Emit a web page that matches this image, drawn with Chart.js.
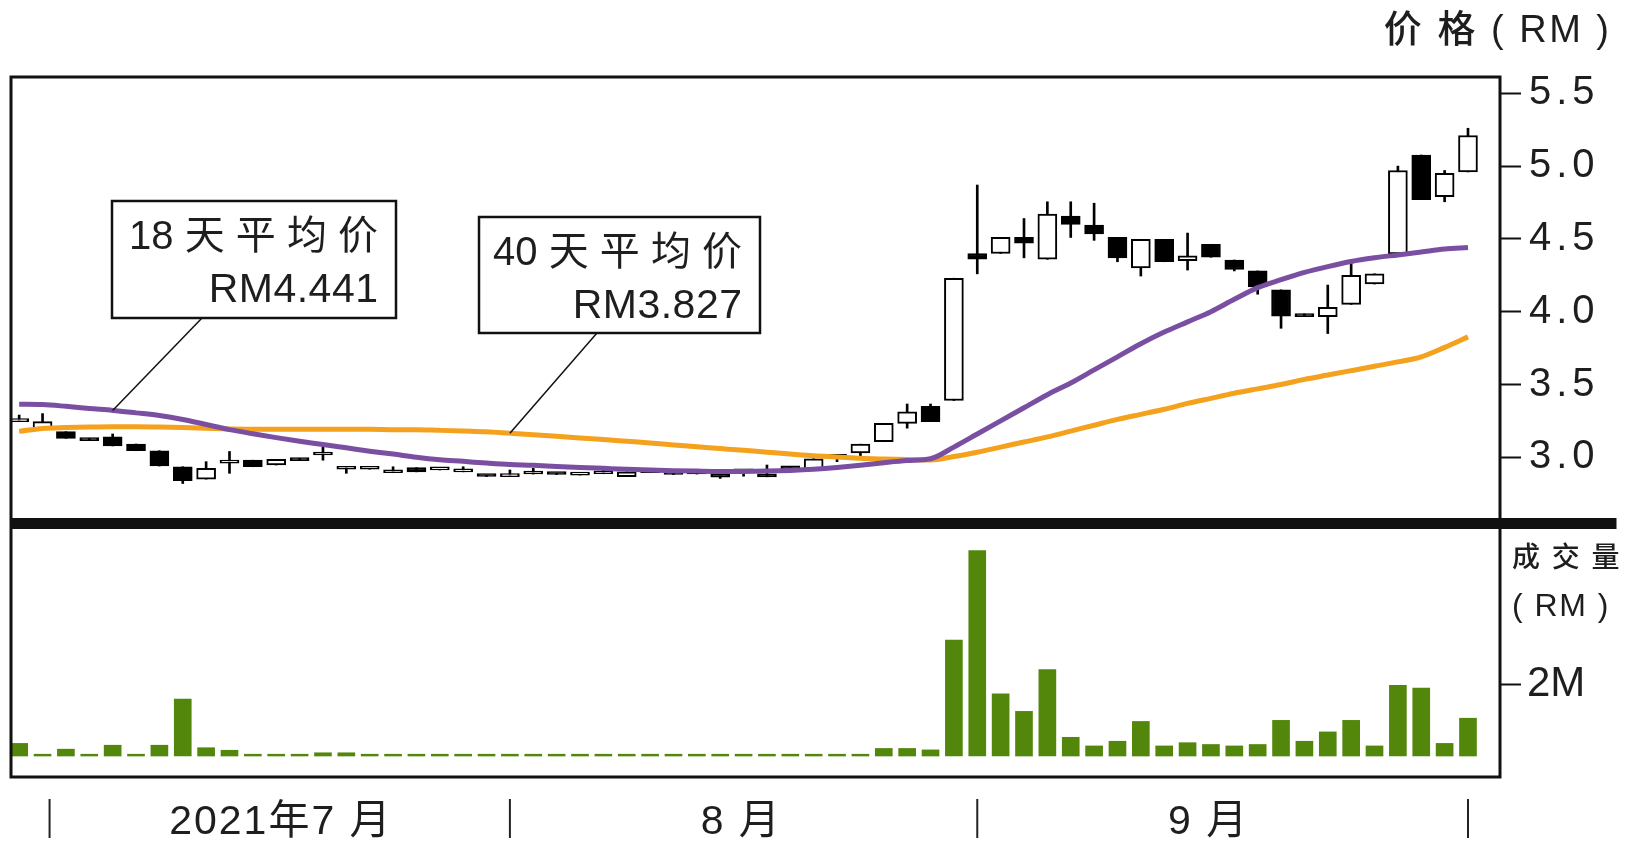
<!DOCTYPE html>
<html>
<head>
<meta charset="utf-8">
<title>价格与成交量</title>
<script src="https://cdn.jsdelivr.net/npm/chart.js@4.4.1/dist/chart.umd.min.js"></script>
<style>
  html, body { margin: 0; padding: 0; background: #fff; }
  body { width: 1633px; height: 852px; position: relative; overflow: hidden; }
  .pane { position: absolute; left: 0; width: 1633px; }
  #pricePane { top: 0; height: 530px; }
  #volPane { top: 529px; height: 323px; }
</style>
</head>
<body>
<div class="pane" id="pricePane"><canvas id="priceChart"></canvas></div>
<div class="pane" id="volPane"><canvas id="volChart"></canvas></div>
<script>
// trading days, 2021-07-01 .. 2021-10-01
const days = [
  '07-01','07-02','07-05','07-06','07-07','07-08','07-09','07-12','07-13','07-14',
  '07-15','07-16','07-19','07-21','07-22','07-23','07-26','07-27','07-28','07-29',
  '07-30','08-02','08-03','08-04','08-05','08-06','08-09','08-11','08-12','08-13',
  '08-16','08-17','08-18','08-19','08-20','08-23','08-24','08-25','08-26','08-27',
  '08-30','09-01','09-02','09-03','09-06','09-07','09-08','09-09','09-10','09-13',
  '09-14','09-15','09-17','09-20','09-21','09-22','09-23','09-24','09-27','09-28',
  '09-29','09-30','10-01'
];

// daily prices (RM)
const openP = [
  3.245, 3.19, 3.176, 3.13, 3.141, 3.091, 3.045, 2.935, 2.85, 2.96,
  2.98, 2.947, 2.993, 3.016, 2.918, 2.918, 2.894, 2.929, 2.913, 2.90,
  2.876, 2.867, 2.885, 2.89, 2.878, 2.887, 2.867, 2.894, 2.89, 2.885,
  2.872, 2.90, 2.874, 2.928, 2.915, 3.0, 3.03, 3.107, 3.233, 3.35,
  3.39, 4.40, 4.40, 4.51, 4.36, 4.657, 4.595, 4.51, 4.30, 4.497,
  4.35, 4.463, 4.355, 4.28, 4.15, 3.985, 3.966, 4.05, 4.19, 4.396,
  5.076, 4.79, 4.96
];
const closeP = [
  3.245, 3.245, 3.13, 3.114, 3.078, 3.045, 2.94, 2.84, 2.924, 2.97,
  2.935, 2.986, 2.977, 3.016, 2.918, 2.918, 2.894, 2.90, 2.913, 2.90,
  2.868, 2.867, 2.885, 2.882, 2.878, 2.887, 2.90, 2.894, 2.882, 2.885,
  2.864, 2.90, 2.866, 2.92, 2.99, 3.0, 3.09, 3.233, 3.313, 3.245,
  4.23, 4.36, 4.51, 4.47, 4.67, 4.60, 4.534, 4.37, 4.497, 4.343,
  4.383, 4.374, 4.29, 4.17, 3.97, 3.966, 4.03, 4.25, 4.26, 4.97,
  4.77, 4.95, 5.21
];
const highP = [
  3.29, 3.30, 3.176, 3.13, 3.16, 3.091, 3.045, 2.935, 2.97, 3.04,
  2.98, 2.986, 2.993, 3.096, 2.935, 2.918, 2.935, 2.929, 2.913, 2.935,
  2.876, 2.913, 2.924, 2.89, 2.878, 2.935, 2.90, 2.894, 2.89, 2.885,
  2.872, 2.91, 2.947, 2.928, 2.99, 3.01, 3.09, 3.233, 3.366, 3.366,
  4.23, 4.87, 4.51, 4.64, 4.755, 4.755, 4.745, 4.51, 4.497, 4.497,
  4.54, 4.463, 4.355, 4.28, 4.15, 3.985, 4.183, 4.34, 4.26, 5.0,
  5.076, 4.97, 5.26
];
const lowP = [
  3.245, 3.19, 3.13, 3.114, 3.078, 3.045, 2.94, 2.82, 2.85, 2.89,
  2.935, 2.947, 2.977, 2.98, 2.89, 2.918, 2.894, 2.90, 2.913, 2.90,
  2.868, 2.867, 2.885, 2.882, 2.878, 2.887, 2.867, 2.894, 2.882, 2.885,
  2.855, 2.87, 2.866, 2.92, 2.915, 2.97, 3.01, 3.107, 3.20, 3.245,
  3.39, 4.26, 4.40, 4.37, 4.36, 4.51, 4.49, 4.343, 4.245, 4.343,
  4.286, 4.374, 4.28, 4.12, 3.886, 3.966, 3.85, 4.05, 4.19, 4.396,
  4.77, 4.755, 4.96
];

// moving averages
const ma18 = [
  3.364, 3.362, 3.35, 3.335, 3.322, 3.305, 3.287, 3.26, 3.225, 3.19,
  3.162, 3.135, 3.11, 3.088, 3.065, 3.042, 3.022, 3.0, 2.983, 2.972,
  2.96, 2.95, 2.945, 2.937, 2.93, 2.924, 2.918, 2.913, 2.908, 2.905,
  2.903, 2.903, 2.905, 2.91, 2.918, 2.93, 2.945, 2.963, 2.978, 2.99,
  3.07, 3.16, 3.25, 3.34, 3.43, 3.51, 3.60, 3.69, 3.78, 3.86,
  3.93, 4.0, 4.085, 4.165, 4.22, 4.27, 4.31, 4.345, 4.37, 4.39,
  4.41, 4.43, 4.441
];
const ma40 = [
  3.178, 3.198, 3.204, 3.208, 3.21, 3.21, 3.208, 3.205, 3.2, 3.195,
  3.193, 3.192, 3.192, 3.192, 3.192, 3.192, 3.19, 3.19, 3.185, 3.18,
  3.175, 3.165, 3.155, 3.145, 3.133, 3.122, 3.11, 3.098, 3.085, 3.072,
  3.06, 3.048, 3.035, 3.022, 3.01, 3.002, 2.993, 2.988, 2.984, 2.982,
  3.005, 3.035, 3.07, 3.105, 3.14, 3.18, 3.22, 3.26, 3.295, 3.33,
  3.37, 3.405, 3.44, 3.47, 3.50, 3.535, 3.565, 3.595, 3.625, 3.655,
  3.69, 3.755, 3.827
];

// volume (RM million)
const volume = [
  0.35, 0.05, 0.19, 0.05, 0.30, 0.05, 0.30, 1.58, 0.23, 0.16,
  0.05, 0.05, 0.05, 0.09, 0.09, 0.05, 0.05, 0.05, 0.05, 0.05,
  0.05, 0.05, 0.05, 0.05, 0.05, 0.05, 0.05, 0.05, 0.05, 0.05,
  0.05, 0.05, 0.05, 0.05, 0.05, 0.05, 0.05, 0.21, 0.21, 0.17,
  3.22, 5.71, 1.73, 1.24, 2.40, 0.52, 0.28, 0.41, 0.96, 0.28,
  0.37, 0.32, 0.28, 0.32, 0.99, 0.41, 0.67, 0.99, 0.28, 1.96,
  1.89, 0.35, 1.05
];

const priceTicks = [3.0, 3.5, 4.0, 4.5, 5.0, 5.5];
const volumeTicks = [2];
const monthNames = ['2021年7 月', '8 月', '9 月'];
const monthLabelAt = [11.2, 30.9, 50.9];
const monthDividers = [1.3, 21, 41, 62];

const FONT = '"Liberation Sans", "Noto Sans CJK SC", sans-serif';
const INK = '#1e1e1e';
const X_MIN = -0.35, X_MAX = 63.37;

const bodies = days.map((d, i) => ({ x: i, y: [openP[i], closeP[i]] }));
const wicks = days.map((d, i) => ({ x: i, y: [lowP[i], highP[i]] }));
const bodyFill = days.map((d, i) => closeP[i] >= openP[i] ? '#ffffff' : '#000000');

const notes = [
  { title: '18 天 平 均 价', series: ma18, at: 4, box: { l: 112, t: 201, r: 396, b: 318 }, lineX: 202 },
  { title: '40 天 平 均 价', series: ma40, at: 21, box: { l: 479, t: 217, r: 760, b: 333 }, lineX: 597 }
];

function text(ctx, s, x, y, size, align, spacing, baseline, weight) {
  ctx.save();
  ctx.font = (weight || 'normal') + ' ' + size + 'px ' + FONT;
  ctx.letterSpacing = (spacing || 0) + 'px';
  ctx.textAlign = align;
  ctx.textBaseline = baseline || 'alphabetic';
  ctx.fillStyle = INK;
  ctx.fillText(s, align === 'right' ? x + (spacing || 0) : x, y);
  ctx.restore();
}

// drop the label overhang that Chart.js reserves above/below a vertical axis
function fixAxis(s) {
  s.width = 133;
  s.paddingTop = 0;
  s.paddingBottom = 0;
}

// frame, divider, annotation boxes, price title
const pricePanel = {
  id: 'pricePanel',
  beforeDraw(chart) { chart.ctx.letterSpacing = '5px'; },
  afterDraw(chart) {
    const { ctx, chartArea: a, scales } = chart;
    ctx.save();
    ctx.letterSpacing = '0px';
    ctx.strokeStyle = '#111';
    ctx.lineWidth = 3;
    ctx.beginPath();
    ctx.moveTo(a.left, a.bottom);
    ctx.lineTo(a.left, a.top);
    ctx.lineTo(a.right, a.top);
    ctx.lineTo(a.right, a.bottom);
    ctx.stroke();
    ctx.fillStyle = '#111';
    ctx.fillRect(a.left - 1.5, a.bottom, 1618 - a.left, 11);

    notes.forEach(n => {
      const px = scales.x.getPixelForValue(n.at);
      const py = scales.y.getPixelForValue(n.series[n.at]);
      const b = n.box;
      ctx.strokeStyle = '#111';
      ctx.lineWidth = 1.5;
      ctx.beginPath();
      ctx.moveTo(n.lineX, b.b);
      ctx.lineTo(px, py);
      ctx.stroke();
      ctx.fillStyle = '#fff';
      ctx.fillRect(b.l, b.t, b.r - b.l, b.b - b.t);
      ctx.lineWidth = 2.5;
      ctx.strokeRect(b.l, b.t, b.r - b.l, b.b - b.t);
      const last = n.series[n.series.length - 1];
      text(ctx, n.title, b.r - 18, b.t + 48, 40, 'right', 0);
      text(ctx, 'RM' + last.toFixed(3), b.r - 18, b.t + 101, 41, 'right', 0.5);
    });

    text(ctx, '价 格 ( RM )', 1609, 32, 38, 'right', 2.5, 'middle', '500');
    ctx.restore();
  }
};

// frame, axis title, month markers
const volPanel = {
  id: 'volPanel',
  afterDraw(chart) {
    const { ctx, chartArea: a, scales } = chart;
    ctx.save();
    ctx.strokeStyle = '#111';
    ctx.lineWidth = 3;
    ctx.beginPath();
    ctx.moveTo(a.left, a.top);
    ctx.lineTo(a.left, a.bottom);
    ctx.lineTo(a.right, a.bottom);
    ctx.lineTo(a.right, a.top);
    ctx.stroke();

    text(ctx, '成 交 量', 1512, a.top + 30, 28, 'left', 2, 'middle', '500');
    text(ctx, '( RM )', 1512, a.top + 78, 32, 'left', 1.5, 'middle');

    ctx.strokeStyle = '#222';
    ctx.lineWidth = 2;
    monthDividers.forEach(v => {
      const x = scales.x.getPixelForValue(v);
      ctx.beginPath();
      ctx.moveTo(x, a.bottom + 22);
      ctx.lineTo(x, a.bottom + 61);
      ctx.stroke();
    });
    monthNames.forEach((m, i) => {
      text(ctx, m, scales.x.getPixelForValue(monthLabelAt[i]), a.bottom + 57, 41, 'center', 2);
    });
    ctx.restore();
  }
};

const xScale = { type: 'linear', min: X_MIN, max: X_MAX, offset: false, display: false };

new Chart(document.getElementById('priceChart'), {
  type: 'bar',
  data: {
    datasets: [
      {
        type: 'line', label: '18 天平均价',
        data: ma18.map((v, i) => ({ x: i, y: v })),
        borderColor: '#7a4fa2', borderWidth: 5, pointRadius: 0,
        cubicInterpolationMode: 'monotone', order: 0
      },
      {
        type: 'line', label: '40 天平均价',
        data: ma40.map((v, i) => ({ x: i, y: v })),
        borderColor: '#f4a11d', borderWidth: 5, pointRadius: 0,
        cubicInterpolationMode: 'monotone', order: 0
      },
      {
        label: 'body', data: bodies,
        backgroundColor: bodyFill, borderColor: '#000', borderWidth: 2,
        borderSkipped: false, barThickness: 19, minBarLength: 3,
        grouped: false, order: 1
      },
      {
        label: 'wick', data: wicks,
        backgroundColor: '#000', borderWidth: 0, barThickness: 2,
        grouped: false, order: 2
      }
    ]
  },
  options: {
    responsive: true,
    maintainAspectRatio: false,
    animation: false,
    layout: { padding: { left: 11, top: 77, right: 0, bottom: 12 } },
    plugins: { legend: { display: false }, tooltip: { enabled: false } },
    scales: {
      x: xScale,
      y: {
        position: 'right', min: 2.583, max: 5.612,
        afterBuildTicks: s => { s.ticks = priceTicks.map(v => ({ value: v })); },
        afterFit: fixAxis,
        border: { display: false },
        grid: { drawOnChartArea: false, drawTicks: true, tickLength: 21, tickWidth: 2, tickColor: '#111' },
        ticks: { padding: 8, color: INK, font: { family: FONT, size: 40 }, callback: v => v.toFixed(1) }
      }
    }
  },
  plugins: [pricePanel]
});

new Chart(document.getElementById('volChart'), {
  type: 'bar',
  data: {
    datasets: [{
      label: '成交量',
      data: volume.map((v, i) => ({ x: i, y: v })),
      backgroundColor: '#52870c', barThickness: 17, grouped: false
    }]
  },
  options: {
    responsive: true,
    maintainAspectRatio: false,
    animation: false,
    layout: { padding: { left: 11, top: 0, right: 0, bottom: 75 } },
    plugins: { legend: { display: false }, tooltip: { enabled: false } },
    scales: {
      x: Object.assign({}, xScale),
      y: {
        position: 'right', min: -0.583, max: 6.306,
        afterBuildTicks: s => { s.ticks = volumeTicks.map(v => ({ value: v })); },
        afterFit: fixAxis,
        border: { display: false },
        grid: { drawOnChartArea: false, drawTicks: true, tickLength: 21, tickWidth: 2, tickColor: '#111' },
        ticks: { padding: 6, color: INK, font: { family: FONT, size: 42 }, callback: v => v + 'M' }
      }
    }
  },
  plugins: [volPanel]
});
</script>
</body>
</html>
